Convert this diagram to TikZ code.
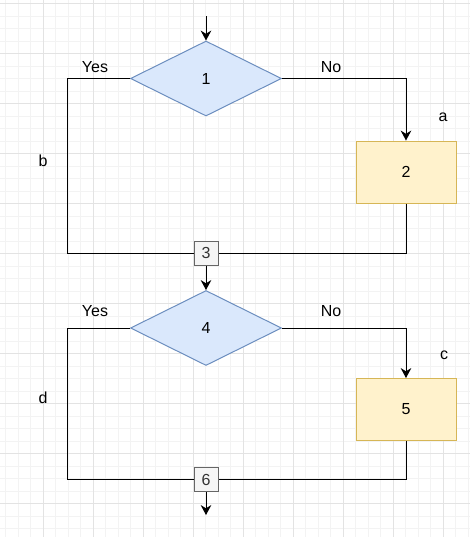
\documentclass[tikz,border=0pt]{standalone}
\usepackage{fontspec}
\setmainfont{Liberation Sans}
\usetikzlibrary{shapes.geometric,arrows.meta}
\definecolor{dfill}{HTML}{DAE8FC}
\definecolor{dline}{HTML}{6C8EBF}
\definecolor{bfill}{HTML}{FFF2CC}
\definecolor{bline}{HTML}{D6B656}
\definecolor{gfill}{HTML}{F5F5F5}
\definecolor{gline}{HTML}{666666}
\definecolor{gtext}{HTML}{333333}
\definecolor{minorgrid}{HTML}{F3F3F3}
\definecolor{majorgrid}{HTML}{E3E3E3}
\tikzset{
  decision/.style={diamond, draw=dline, fill=dfill, line width=0.75pt, inner sep=0pt,
    minimum width=113.25pt, minimum height=56.25pt, font=\fontsize{12pt}{14pt}\selectfont},
  process/.style={rectangle, draw=bline, fill=bfill, line width=0.75pt, inner sep=0pt,
    minimum width=75pt, minimum height=46.5pt, font=\fontsize{12pt}{14pt}\selectfont},
  joinbox/.style={rectangle, draw=gline, fill=gfill, text=gtext, line width=0.75pt, inner sep=0pt,
    minimum width=18pt, minimum height=18pt, font=\fontsize{12pt}{14pt}\selectfont},
  lbl/.style={font=\fontsize{12pt}{14pt}\selectfont, inner sep=0pt},
  conn/.style={draw=black, line width=0.75pt},
  arr/.style={conn, -{Stealth[length=7.5pt,width=8pt,inset=2.5pt]}},
}
\begin{document}
\begin{tikzpicture}[x=0.75pt,y=-0.75pt]
\useasboundingbox (0,0) rectangle (470,537);
\fill[white] (0,0) rectangle (470,537);
% grid
\foreach \i in {0,...,38} {
  \draw[minorgrid, line width=0.75pt] ({5.8+12.5*\i},0) -- ({5.8+12.5*\i},537);
}
\foreach \i in {0,...,43} {
  \draw[minorgrid, line width=0.75pt] (0,{3.5+12.5*\i}) -- (470,{3.5+12.5*\i});
}
\foreach \i in {0,...,9} {
  \draw[majorgrid, line width=0.75pt] ({43.3+50*\i-50},0) -- ({43.3+50*\i-50},537);
}
\foreach \i in {0,...,10} {
  \draw[majorgrid, line width=0.75pt] (0,{3.5+50*\i}) -- (470,{3.5+50*\i});
}
% nodes
\coordinate (start) at (206,16);
\node[decision] (d1) at (206,78.5) {1};
\node[process] (b2) at (406,172) {2};
\node[joinbox] (b3) at (206,253) {3};
\node[decision] (d4) at (206,328) {4};
\node[process] (b5) at (406,409.5) {5};
\node[joinbox] (b6) at (206,479.5) {6};
\coordinate (finish) at (206,515);
% labels
\node[lbl] (yes1) at (95,67) {Yes};
\node[lbl] (no1) at (331,67) {No};
\node[lbl] (la) at (443,117) {a};
\node[lbl] (lb) at (43,161) {b};
\node[lbl] (yes2) at (95,311) {Yes};
\node[lbl] (no2) at (331,311) {No};
\node[lbl] (lc) at (444,355) {c};
\node[lbl] (ld) at (43,398) {d};
% connectors
\draw[arr] (start) -- (d1.north);
\draw[conn] (d1.west) -- ++(-63,0) |- (b3.west);
\draw[arr] (d1.east) -| (b2.north);
\draw[conn] (b2.south) |- (b3.east);
\draw[arr] (b3.south) -- (d4.north);
\draw[conn] (d4.west) -- ++(-63,0) |- (b6.west);
\draw[arr] (d4.east) -| (b5.north);
\draw[conn] (b5.south) |- (b6.east);
\draw[arr] (b6.south) -- (finish);
\end{tikzpicture}
\end{document}
